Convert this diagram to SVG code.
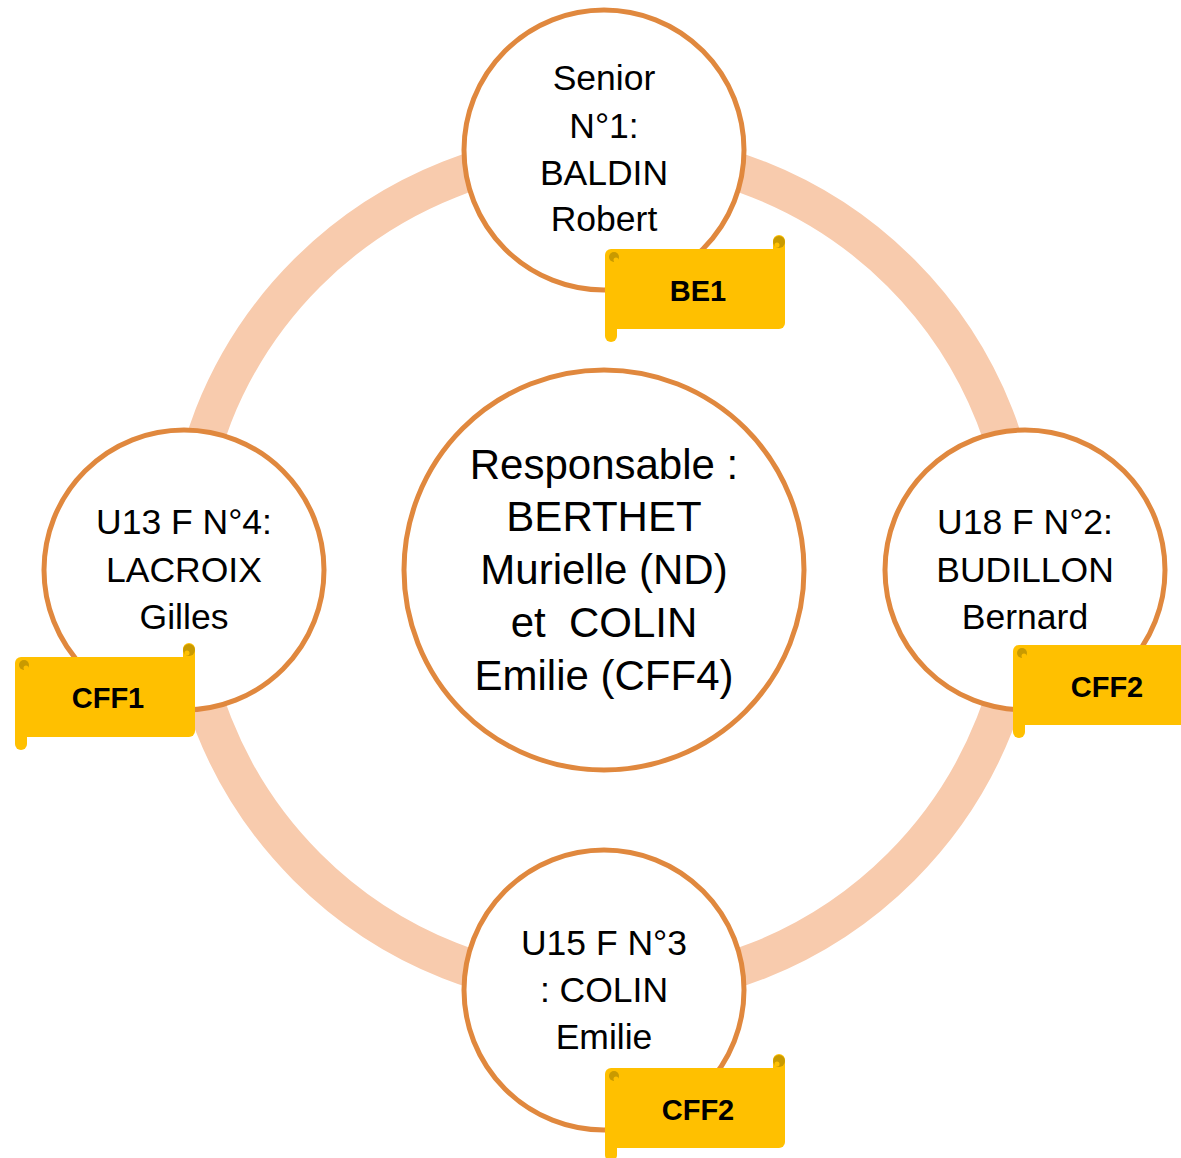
<svg xmlns="http://www.w3.org/2000/svg" xmlns:xlink="http://www.w3.org/1999/xlink" width="1181" height="1158" viewBox="0 0 1181 1158">
<style>
.node{fill:#FFFFFF;stroke:#E0883E;stroke-width:5}
.t{font-family:"Liberation Sans",Arial,sans-serif;font-size:35.5px;fill:#000;text-anchor:middle}
.tc{font-family:"Liberation Sans",Arial,sans-serif;font-size:42px;fill:#000;text-anchor:middle;white-space:pre}
.b{font-family:"Liberation Sans",Arial,sans-serif;font-size:29px;font-weight:bold;fill:#000;text-anchor:middle}
.y{fill:#FFC000}
.d{fill:#C99A00}
</style>
<defs>
<g id="scroll">
<rect class="y" x="0" y="14" width="180" height="80" rx="6"/>
<rect class="y" x="168" y="0" width="12" height="30" rx="6"/>
<rect class="y" x="0" y="80" width="12" height="27" rx="6"/>
<circle class="d" cx="174" cy="7" r="6"/>
<circle class="y" cx="172" cy="10" r="2.5"/>
<circle class="d" cx="9" cy="22" r="5"/>
<circle class="y" cx="11" cy="25" r="2.5"/>
</g>
</defs>
<g id="connectors">
<circle cx="604" cy="570" r="420" fill="none" stroke="#F8CBAD" stroke-width="38"/>
</g>
<g id="center">
<circle class="node" cx="604" cy="570" r="200"/>
<text class="tc" x="604" y="479">Responsable :</text>
<text class="tc" x="604" y="531">BERTHET</text>
<text class="tc" x="604" y="584">Murielle (ND)</text>
<text class="tc" x="604" y="637" xml:space="preserve">et  COLIN</text>
<text class="tc" x="604" y="690">Emilie (CFF4)</text>
</g>
<g id="senior">
<circle class="node" cx="604" cy="150" r="140"/>
<text class="t" x="604" y="90">Senior</text>
<text class="t" x="604" y="138">N°1:</text>
<text class="t" x="604" y="185">BALDIN</text>
<text class="t" x="604" y="231">Robert</text>
<use xlink:href="#scroll" href="#scroll" transform="translate(605,235)"/>
<text class="b" x="698" y="301">BE1</text>
</g>
<g id="u18">
<circle class="node" cx="1025" cy="570" r="140"/>
<text class="t" x="1025" y="534">U18 F N°2:</text>
<text class="t" x="1025" y="582">BUDILLON</text>
<text class="t" x="1025" y="629">Bernard</text>
<use xlink:href="#scroll" href="#scroll" transform="translate(1013,631)"/>
<text class="b" x="1107" y="697">CFF2</text>
</g>
<g id="u15">
<circle class="node" cx="604" cy="990" r="140"/>
<text class="t" x="604" y="955">U15 F N°3</text>
<text class="t" x="604" y="1002">: COLIN</text>
<text class="t" x="604" y="1049">Emilie</text>
<use xlink:href="#scroll" href="#scroll" transform="translate(605,1054)"/>
<text class="b" x="698" y="1120">CFF2</text>
</g>
<g id="u13">
<circle class="node" cx="184" cy="570" r="140"/>
<text class="t" x="184" y="534">U13 F N°4:</text>
<text class="t" x="184" y="582">LACROIX</text>
<text class="t" x="184" y="629">Gilles</text>
<use xlink:href="#scroll" href="#scroll" transform="translate(15,643)"/>
<text class="b" x="108" y="708">CFF1</text>
</g>
</svg>
